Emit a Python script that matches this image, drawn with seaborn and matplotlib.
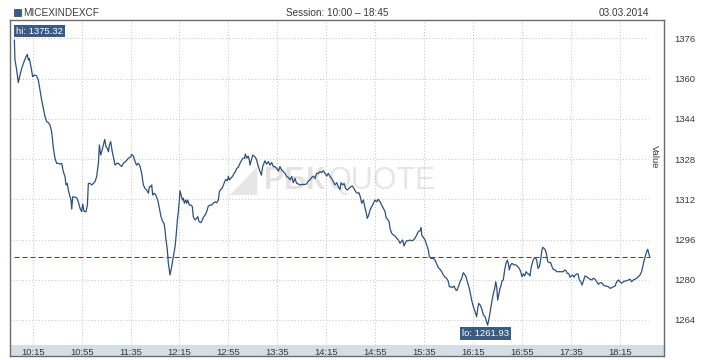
import matplotlib
matplotlib.use("Agg")
import matplotlib.pyplot as plt
import matplotlib.transforms as mtransforms
from matplotlib.patches import Rectangle, Polygon
import numpy as np
import pandas as pd
import seaborn as sns

ticker = "MICEXINDEXCF"
session = "Session: 10:00 \u2013 18:45"
date_str = "03.03.2014"

# minutes after 10:00 and index value
minutes = [
    0.0, 0.5, 1.9, 3.2, 4.6, 6.0, 7.9, 9.5, 10.6, 11.4, 12.2, 13.3, 15.0, 16.1,
    18.2, 19.6, 21.0, 22.3, 23.7, 25.1, 26.4, 27.8, 29.1, 30.5, 31.9, 33.2, 34.6,
    36.0, 37.3, 38.7, 40.0, 41.4, 42.2, 43.3, 44.1, 45.5, 46.3, 46.9, 47.7, 49.6,
    51.0, 52.3, 53.7, 55.0, 55.9, 57.0, 58.6, 59.7, 60.5, 61.9, 63.2, 64.6, 65.9,
    67.3, 68.7, 69.5, 70.6, 71.4, 72.8, 73.9, 74.9, 76.0, 76.9, 77.7, 78.8, 79.8,
    80.9, 82.3, 83.7, 85.0, 86.4, 87.8, 89.1, 91.3, 93.2, 95.1, 95.9, 97.3, 98.7,
    100.0, 101.4, 102.7, 104.1, 105.5, 106.8, 108.2, 109.6, 110.4, 111.5, 112.3,
    113.1, 114.2, 115.6, 117.2, 118.6, 119.9, 121.3, 122.4, 123.2, 124.0, 125.1,
    125.9, 127.3,
    128.6, 130.0, 131.4, 132.2, 132.7, 133.3, 134.1, 134.9, 135.4, 136.3, 137.4,
    138.2, 139.0, 140.1, 140.9, 141.7, 143.1, 144.4, 145.5, 146.3, 147.7, 149.1,
    149.9, 151.0, 152.6, 153.7, 154.5, 155.9, 157.3, 158.6, 160.0, 161.3, 162.7,
    164.1, 165.4, 166.8, 167.6, 168.7, 169.8, 170.9, 171.7, 172.8, 174.2, 175.0,
    175.8, 176.9, 178.5, 179.6, 180.7, 181.8, 183.1, 184.5, 185.6, 186.7, 188.1,
    188.9, 190.0, 191.1, 192.1, 192.7, 193.8, 194.9, 196.0, 197.1, 198.1, 199.5,
    200.9, 202.0, 203.0, 204.1, 204.9, 206.3, 207.7, 209.0, 210.4, 211.8, 213.1,
    214.5, 215.9, 217.2, 218.6, 220.0, 221.3, 222.7, 224.0, 225.4, 226.8, 228.1,
    229.5, 230.8, 232.2, 233.6, 234.9, 236.3, 237.7, 239.0, 240.4, 241.8, 243.1,
    244.5, 245.8, 247.2, 248.6, 249.9, 251.3, 252.7, 254.0, 255.4, 256.7, 258.1,
    259.5, 260.8, 262.2, 263.6, 264.9, 266.3,
    267.1, 268.5, 269.6, 270.9, 272.3, 273.6, 275.0, 276.4, 277.7, 279.1, 280.5,
    281.8, 283.2, 284.0, 285.4, 286.5, 287.5, 288.6, 289.7, 290.8, 292.2, 293.5,
    294.9, 296.3, 297.6, 299.0, 300.4, 301.7, 303.1, 303.9, 305.3, 306.4, 307.2,
    308.5, 309.9, 311.3, 312.6, 314.0, 315.4, 316.2, 317.5, 318.6, 319.7, 320.8,
    322.2, 323.5, 324.9, 326.3, 327.6, 329.0, 330.3, 331.7, 332.5, 333.1, 334.4,
    335.8, 337.2, 338.5, 339.3, 340.7, 342.6, 344.0, 345.3, 346.7, 348.1, 349.4,
    350.8, 352.1, 353.5, 354.9, 355.7, 357.1, 358.1, 359.5, 360.6, 361.7, 363.1,
    364.4, 365.8, 367.1, 368.5, 369.3, 370.4, 372.0, 373.1, 374.2, 375.3, 376.7,
    378.0, 378.9, 379.7, 380.8, 382.1, 383.5, 384.9, 386.2, 387.0, 388.4, 389.5,
    390.6, 391.7, 392.8, 393.6, 394.4, 395.2, 396.3, 397.1,
    397.7, 398.8, 399.8, 400.9, 402.0, 403.1, 403.9, 404.7, 405.8, 406.9, 408.6,
    410.2, 411.6, 412.9, 414.0, 415.1, 416.2, 417.3, 418.4, 419.5, 420.6, 421.6,
    422.7, 423.8, 424.9, 426.0, 427.1, 428.2, 429.3, 430.4, 431.2, 432.0, 433.1,
    434.2, 435.3, 436.1, 437.5, 438.5, 439.6, 440.7, 442.1, 443.5, 444.8, 446.2,
    447.5, 448.9, 450.0, 451.1, 452.2, 453.3, 454.4, 455.4, 456.5, 457.6, 458.7,
    459.8, 460.9, 462.0, 463.1, 464.2, 465.3, 466.6, 468.0, 469.4, 470.7, 472.1,
    473.4, 474.8, 476.2, 477.5, 478.9, 480.3, 481.6, 483.0, 484.3, 485.7, 487.1,
    488.4, 489.8, 491.2, 492.5, 493.9, 495.2, 496.6, 498.0, 499.3, 500.7, 502.1,
    503.4, 504.8, 506.1, 507.5, 508.9, 510.2, 511.6, 512.9, 513.8, 514.9, 515.9,
    517.0, 517.9, 518.7, 519.5,
]
values = [
    1375.32, 1367.4, 1363.4, 1358.4, 1361.4, 1364.1, 1366.7, 1368.7, 1369.6, 1367.4,
    1368.0, 1365.4, 1360.7, 1361.4, 1361.1, 1359.4, 1355.4, 1351.5, 1348.2, 1344.8,
    1342.9, 1342.5, 1341.5, 1338.9, 1332.3, 1328.3, 1326.3, 1326.3, 1326.0, 1326.3,
    1323.0, 1321.0, 1317.7, 1318.3, 1315.7, 1313.0, 1311.7, 1308.1, 1313.0, 1312.8,
    1312.6, 1311.0, 1308.4, 1307.1, 1310.1, 1307.1, 1307.1, 1309.7, 1318.3, 1318.3,
    1317.7, 1318.3, 1319.0, 1321.0, 1326.3, 1333.6, 1329.6, 1330.9, 1333.6, 1335.8,
    1332.9, 1332.3, 1330.9, 1333.6, 1334.9, 1331.6, 1328.9, 1325.6, 1326.3, 1326.3,
    1325.6, 1325.0, 1326.3, 1327.2, 1328.3, 1328.9, 1329.9, 1329.2, 1327.0, 1325.6,
    1326.3, 1325.2, 1322.3, 1317.7, 1316.3, 1315.7, 1314.4, 1317.0, 1317.0, 1317.7,
    1313.7, 1314.4, 1313.7, 1311.7, 1308.4, 1305.1, 1303.1, 1302.4, 1299.8, 1295.8,
    1291.8, 1286.5, 1281.9,
    1285.2, 1289.2, 1293.2, 1297.1, 1300.4, 1303.8, 1307.1, 1311.7, 1315.4, 1313.7,
    1311.7, 1312.4, 1310.4, 1311.7, 1310.4, 1311.7, 1309.7, 1309.7, 1309.1, 1305.1,
    1303.8, 1304.4, 1305.1, 1303.1, 1302.7, 1303.8, 1304.8, 1305.7, 1307.1, 1309.3,
    1309.7, 1309.7, 1310.4, 1311.0, 1310.6, 1311.7, 1315.0, 1315.9, 1316.3, 1317.7,
    1318.6, 1319.9, 1319.4, 1321.2, 1319.7, 1320.3, 1321.2, 1322.3, 1323.0, 1324.3,
    1324.7, 1326.3, 1327.3, 1328.3, 1328.3, 1330.0, 1328.3, 1329.2, 1327.6, 1325.6,
    1327.6, 1329.6, 1329.2, 1328.7, 1327.6, 1325.0, 1323.0, 1321.6, 1325.0, 1326.3,
    1327.3, 1326.0, 1327.0, 1325.6, 1326.6, 1325.0, 1325.0, 1324.3, 1323.2, 1325.0,
    1323.6, 1323.0, 1322.3, 1321.0, 1320.7, 1319.7, 1321.0, 1318.6, 1320.3, 1318.3,
    1318.1, 1317.7, 1317.9, 1317.9, 1317.9, 1318.1, 1319.4, 1319.7, 1320.7, 1321.2,
    1320.3, 1322.3, 1322.3, 1323.0, 1322.6, 1323.4, 1322.3, 1321.2, 1322.3, 1321.0,
    1320.3, 1319.0, 1317.7, 1318.6, 1317.0, 1315.9,
    1318.6, 1317.7, 1318.3, 1316.3, 1315.7, 1316.3, 1317.0, 1317.3, 1316.3, 1315.0,
    1314.4, 1314.6, 1312.4, 1310.4, 1311.7, 1309.1, 1307.1, 1304.4, 1305.7, 1307.7,
    1309.1, 1310.4, 1311.7, 1311.0, 1312.0, 1311.0, 1309.7, 1308.4, 1307.1, 1304.8,
    1304.0, 1303.1, 1300.4, 1298.5, 1297.8, 1297.4, 1296.5, 1295.8, 1294.5, 1295.1,
    1295.8, 1293.4, 1294.7, 1295.5, 1295.5, 1295.8, 1295.5, 1295.8, 1296.5, 1297.8,
    1299.1, 1299.5, 1300.8, 1297.8, 1296.9, 1295.8, 1293.8, 1291.8, 1289.2, 1288.5,
    1288.5, 1287.8, 1286.3, 1284.8, 1284.1, 1283.2, 1281.9, 1281.0, 1280.6, 1279.2,
    1277.2, 1277.2, 1276.9, 1277.5, 1276.2, 1275.7, 1277.2, 1279.2, 1280.6, 1282.8,
    1281.9, 1281.2, 1279.2, 1276.6, 1273.9, 1271.3, 1269.3, 1267.3, 1265.3, 1268.6,
    1270.6, 1270.0, 1268.6, 1266.0, 1265.3, 1263.3, 1261.93, 1265.3, 1268.6, 1271.9,
    1274.6, 1276.6, 1279.2, 1277.2, 1271.9, 1274.6, 1276.6,
    1277.2, 1279.6, 1279.9, 1283.9, 1286.5, 1287.8, 1286.5, 1283.9, 1285.9, 1286.5,
    1285.9, 1285.9, 1285.2, 1284.5, 1283.2, 1281.2, 1282.3, 1281.5, 1283.2, 1282.5,
    1282.3, 1281.5, 1285.2, 1287.2, 1288.5, 1288.8, 1287.8, 1284.5, 1285.2, 1288.1,
    1291.2, 1292.9, 1292.5, 1291.8, 1289.8, 1287.2, 1286.8, 1286.8, 1285.2, 1284.1,
    1283.9, 1283.2, 1283.2, 1283.2, 1283.2, 1283.2, 1283.9, 1283.6, 1282.5, 1282.5,
    1281.0, 1281.5, 1281.9, 1281.0, 1281.9, 1282.3, 1282.3, 1279.9, 1279.2, 1277.9,
    1279.6, 1281.5, 1281.2, 1280.6, 1280.2, 1279.9, 1280.6, 1280.2, 1279.2, 1278.2,
    1278.8, 1278.8, 1277.9, 1277.5, 1277.5, 1277.2, 1276.6, 1276.8, 1277.2, 1277.5,
    1279.2, 1279.9, 1279.2, 1278.6, 1279.2, 1279.5, 1279.6, 1279.9, 1280.2, 1279.2,
    1279.9, 1280.2, 1280.6, 1281.2, 1281.9, 1283.2, 1285.2, 1287.6, 1289.4, 1291.2,
    1292.1, 1290.5, 1289.2,
]

tick_minutes = [15, 55, 95, 135, 175, 215, 255, 295, 335, 375, 415, 455, 495]
tick_labels = ["10:15", "10:55", "11:35", "12:15", "12:55", "13:35", "14:15",
               "14:55", "15:35", "16:15", "16:55", "17:35", "18:15"]
y_ticks = [1264, 1280, 1296, 1312, 1328, 1344, 1360, 1376]
ref_level = 1289.0

line_c = "#2f5179"
label_bg = "#3b5b80"
frame_c = "#6b6b6b"
text_c = "#3a3a3a"
grid_c = "#c6c6c6"

df = pd.DataFrame({"minute": minutes, "value": values})

sns.set_theme(style="white")
plt.rcParams["font.family"] = ["Liberation Sans", "DejaVu Sans"]

W, H = 718, 360
fig = plt.figure(figsize=(W / 100, H / 100), dpi=100)
ax = fig.add_axes([10 / W, 1 - 345 / H, 654 / W, 325 / H])
band = fig.add_axes([10 / W, 1 - 356 / H, 654 / W, 11 / H], sharex=ax)

sns.lineplot(data=df, x="minute", y="value", ax=ax, color=line_c,
             linewidth=0.9, sort=False, estimator=None, zorder=3)

ax.set_xlim(-3.57, 531.2)
ax.set_ylim(1254.05, 1383.3)
ax.set_xlabel("")
ax.set_ylabel("")

# grid
ax.set_axisbelow(True)
ax.set_xticks(tick_minutes)
ax.tick_params(axis="x", length=0, labelbottom=False)
ax.grid(axis="x", color=grid_c, linestyle=(0, (1, 2)), linewidth=0.75)
ax.hlines(y_ticks, -3.57, minutes[-1] - 1, colors=grid_c,
          linestyles=[(0, (1, 2))], linewidth=0.75, zorder=1)

# previous level line
ax.hlines(ref_level, minutes[0], minutes[-1], colors="#c81818",
          linestyles=[(0, (4.5, 2.7))], linewidth=0.8, zorder=2)

ax.set_yticks(y_ticks)
ax.yaxis.tick_right()
ax.tick_params(axis="y", length=0, pad=7.2, labelsize=6.8, labelcolor=text_c)

for side in ["top", "left", "right"]:
    ax.spines[side].set_color(frame_c)
    ax.spines[side].set_linewidth(1.0)
ax.spines["bottom"].set_visible(False)

# time band
band.set_facecolor("#d5dde5")
band.set_yticks([])
band.tick_params(axis="x", length=0, labelbottom=False)
for side in ["bottom", "left", "right"]:
    band.spines[side].set_color(frame_c)
    band.spines[side].set_linewidth(1.0)
band.spines["top"].set_visible(False)
trans = mtransforms.blended_transform_factory(band.transData, band.transAxes)
for m, lab in zip(tick_minutes, tick_labels):
    band.text(m, 0.1, lab, transform=trans, ha="center", va="baseline",
              fontsize=6.8, color=text_c)

ax.text(0.986, 0.579, "Value", transform=ax.transAxes, rotation=270,
        ha="center", va="center", fontsize=6.8, color=text_c)

# hi / lo labels
i_hi = int(np.argmax(values))
i_lo = int(np.argmin(values))
box = dict(boxstyle="square,pad=0.2", fc=label_bg, ec="none")
ax.annotate(f"hi: {values[i_hi]:.2f}", xy=(minutes[i_hi], values[i_hi]),
            xytext=(2, 9), textcoords="offset pixels", ha="left", va="center",
            color="white", fontsize=6.8, bbox=box, zorder=5)
ax.annotate(f"lo: {values[i_lo]:.2f}", xy=(minutes[i_lo], values[i_lo]),
            xytext=(-2, -8), textcoords="offset pixels", ha="center", va="center",
            color="white", fontsize=6.8, bbox=box, zorder=5)

# watermark
ax.add_patch(Polygon([(0.336, 0.4615), (0.378, 0.548), (0.378, 0.4615)],
                     closed=True, transform=ax.transAxes, fc="#e6e6e6",
                     ec="none", zorder=0.2))
ax.text(0.434, 0.505, "РБК", transform=ax.transAxes, fontsize=22,
        fontweight="bold", color="#e3e3e3", ha="center", va="center", zorder=0.2)
ax.text(0.569, 0.505, "QUOTE", transform=ax.transAxes, fontsize=22,
        color="#e6e6e6", ha="center", va="center", zorder=0.2)

# header
fig.patches.append(Rectangle((14 / W, 1 - 16 / H), 7 / W, 7 / H,
                             transform=fig.transFigure, fc=label_bg,
                             ec="#2a4060", lw=0.5))
fig.text(23 / W, 1 - 16 / H, ticker, fontsize=7.2, color=text_c, va="baseline")
fig.text(337 / W, 1 - 16 / H, session, fontsize=7.2, color=text_c,
         va="baseline", ha="center")
fig.text(649 / W, 1 - 16 / H, date_str, fontsize=7.2, color=text_c,
         va="baseline", ha="right")

fig.savefig("out.png", dpi=100)
